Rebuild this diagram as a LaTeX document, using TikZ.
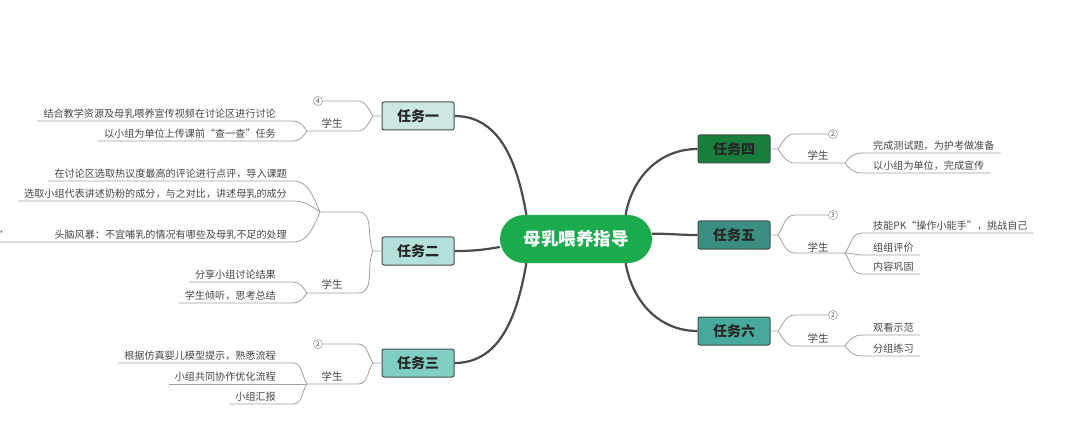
\documentclass[tikz,border=0pt]{standalone}
\usepackage{fontspec}
\setmainfont{Noto Sans CJK SC}
\usepackage{xcolor}
\definecolor{rootgreen}{HTML}{1BAA4E}
\definecolor{taskone}{HTML}{CBE8E4}
\definecolor{tasktwo}{HTML}{B3E1DA}
\definecolor{taskthree}{HTML}{80CFC3}
\definecolor{taskfour}{HTML}{177E3B}
\definecolor{taskfive}{HTML}{3B8E82}
\definecolor{tasksix}{HTML}{48AA9C}
\definecolor{trunkgray}{HTML}{4A4A4A}
\definecolor{twiggray}{HTML}{A0A0A0}
\definecolor{inkgray}{HTML}{454545}

\begin{document}
\begin{tikzpicture}[x=1pt,y=-1pt,
    root/.style={rounded corners=24pt, fill=rootgreen, minimum width=152pt, minimum height=48pt,
      text=white, font=\fontsize{17.5}{20}\selectfont\bfseries},
    task/.style={draw=trunkgray, line width=1pt, rounded corners=2pt, minimum width=72pt,
      minimum height=28pt, text=black!85, font=\fontsize{14}{16}\selectfont\bfseries},
    trunk/.style={trunkgray, line width=2.2pt},
    twig/.style={twiggray, line width=0.8pt},
    item/.style={inner xsep=6pt, inner ysep=2pt, text=inkgray, font=\fontsize{10.1}{12}\selectfont},
    num/.style={circle, draw=twiggray, line width=0.6pt, inner sep=0pt, minimum size=9pt,
      text=inkgray, font=\fontsize{6.5}{7}\selectfont},
    stu/.style={text=inkgray, font=\fontsize{10.5}{12}\selectfont}]
  \useasboundingbox (0,0) rectangle (1080,441);
  % centre and task boxes
  \node[root] (root) at (576,239) {母乳喂养指导};
  \node[task, fill=taskone] (t1) at (418,116) {任务一};
  \node[task, fill=tasktwo] (t2) at (418,251) {任务二};
  \node[task, fill=taskthree] (t3) at (418,363) {任务三};
  \node[task, fill=taskfour] (t4) at (734,149) {任务四};
  \node[task, fill=taskfive] (t5) at (734,235) {任务五};
  \node[task, fill=tasksix] (t6) at (734,331) {任务六};
  \draw[trunk] (root.154) to[out=100,in=0] (t1.east);
  \draw[trunk] (root.186) to[out=190,in=0] (t2.east);
  \draw[trunk] (root.206) to[out=260,in=0] (t3.east);
  \draw[trunk] (root.26) to[out=80,in=180] (t4.west);
  \draw[trunk] (root.4) to[out=0,in=180] (t5.west);
  \draw[trunk] (root.334) to[out=280,in=180] (t6.west);

  % task one
  \coordinate (j1) at (373,116);
  \coordinate (s1) at (307,131);
  \node[num] (n1) at (318,101) {4};
  \node[stu] at (332,123) {学生};
  \node[item, anchor=south east] (a1) at (282,121) {结合教学资源及母乳喂养宣传视频在讨论区进行讨论};
  \node[item, anchor=south east] (a2) at (282,141) {以小组为单位上传课前“查一查”任务};
  \draw[twig] (t1.west) -- (j1) to[out=125,in=0] (358,101) -- (n1.east);
  \draw[twig] (j1) to[out=235,in=0] (358,131) -- (s1);
  \draw[twig] (s1) to[out=125,in=0] (293,121) -- (a1.south west);
  \draw[twig] (s1) to[out=235,in=0] (293,141) -- (a2.south west);

  % task two
  \coordinate (j2) at (373,251);
  \coordinate (h2) at (320,212);
  \coordinate (s2) at (307,293);
  \node[item, anchor=south east] (b1) at (293,181) {在讨论区选取热议度最高的评论进行点评，导入课题};
  \node[item, anchor=south east] (b2) at (293,201) {选取小组代表讲述奶粉的成分，与之对比，讲述母乳的成分};
  \node[item, anchor=south east] (b3) at (293,242) {头脑风暴：不宜哺乳的情况有哪些及母乳不足的处理};
  \node[item, anchor=south east] (b4) at (15,242) {”};
  \node[stu] at (332,284) {学生};
  \node[item, anchor=south east] (c1) at (282,282) {分享小组讨论结果};
  \node[item, anchor=south east] (c2) at (282,303) {学生倾听，思考总结};
  \draw[twig] (t2.west) -- (j2) to[out=115,in=0] (358,212) -- (h2);
  \draw[twig] (j2) to[out=245,in=0] (358,293) -- (s2);
  \draw[twig] (h2) to[out=115,in=0] (b1.south east) -- (b1.south west);
  \draw[twig] (h2) to[out=145,in=0] (b2.south east) -- (b2.south west);
  \draw[twig] (h2) to[out=245,in=0] (b3.south east) -- (b4.south west);
  \draw[twig] (s2) to[out=125,in=0] (293,282) -- (c1.south west);
  \draw[twig] (s2) to[out=235,in=0] (293,303) -- (c2.south west);

  % task three
  \coordinate (j3) at (373,363);
  \coordinate (s3) at (307,384);
  \node[num] (n3) at (318,344) {2};
  \node[stu] at (332,376) {学生};
  \node[item, anchor=south east] (d1) at (282,363) {根据仿真婴儿模型提示，熟悉流程};
  \node[item, anchor=south east] (d2) at (282,384) {小组共同协作优化流程};
  \node[item, anchor=south east] (d3) at (282,404) {小组汇报};
  \draw[twig] (t3.west) -- (j3) to[out=125,in=0] (358,344) -- (n3.east);
  \draw[twig] (j3) to[out=235,in=0] (358,384) -- (s3);
  \draw[twig] (s3) to[out=125,in=0] (293,363) -- (d1.south west);
  \draw[twig] (s3) -- (d2.south west);
  \draw[twig] (s3) to[out=235,in=0] (293,404) -- (d3.south west);

  % task four
  \coordinate (j4) at (778,149);
  \coordinate (s4) at (845,163);
  \node[num] (n4) at (833,134) {2};
  \node[stu] at (818,155) {学生};
  \node[item, anchor=south west] (e1) at (867,153) {完成测试题，为护考做准备};
  \node[item, anchor=south west] (e2) at (867,173) {以小组为单位，完成宣传};
  \draw[twig] (t4.east) -- (j4) to[out=55,in=180] (795,134) -- (n4.west);
  \draw[twig] (j4) to[out=305,in=180] (795,163) -- (s4);
  \draw[twig] (s4) to[out=55,in=180] (862,153) -- (e1.south east);
  \draw[twig] (s4) to[out=305,in=180] (862,173) -- (e2.south east);

  % task five
  \coordinate (j5) at (778,235);
  \coordinate (s5) at (845,253);
  \node[num] (n5) at (833,215) {3};
  \node[stu] at (818,247) {学生};
  \node[item, anchor=south west] (f1) at (867,233) {技能PK“操作小能手”，挑战自己};
  \node[item, anchor=south west] (f2) at (867,255) {组组评价};
  \node[item, anchor=south west] (f3) at (867,274) {内容巩固};
  \draw[twig] (t5.east) -- (j5) to[out=55,in=180] (795,215) -- (n5.west);
  \draw[twig] (j5) to[out=305,in=180] (795,253) -- (s5);
  \draw[twig] (s5) to[out=55,in=180] (862,233) -- (f1.south east);
  \draw[twig] (s5) to[out=0,in=180] (862,255) -- (f2.south east);
  \draw[twig] (s5) to[out=305,in=180] (862,274) -- (f3.south east);

  % task six
  \coordinate (j6) at (778,331);
  \coordinate (s6) at (845,346);
  \node[num] (n6) at (833,315) {2};
  \node[stu] at (818,338) {学生};
  \node[item, anchor=south west] (g1) at (867,335) {观看示范};
  \node[item, anchor=south west] (g2) at (867,356) {分组练习};
  \draw[twig] (t6.east) -- (j6) to[out=55,in=180] (795,315) -- (n6.west);
  \draw[twig] (j6) to[out=305,in=180] (795,346) -- (s6);
  \draw[twig] (s6) to[out=55,in=180] (862,335) -- (g1.south east);
  \draw[twig] (s6) to[out=305,in=180] (862,356) -- (g2.south east);
\end{tikzpicture}
\end{document}
